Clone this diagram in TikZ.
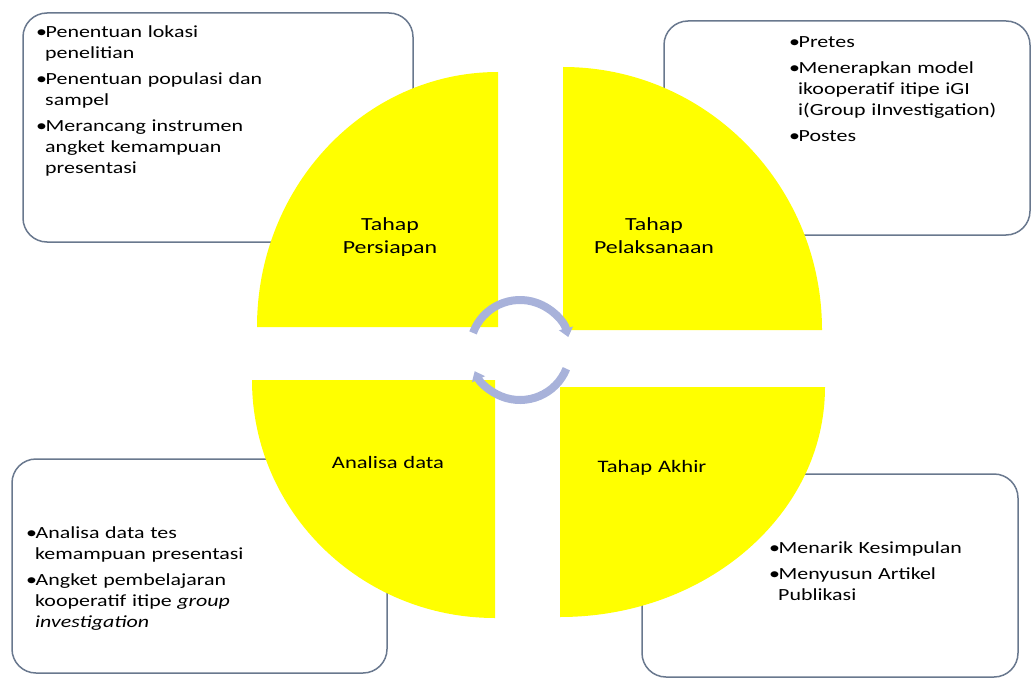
\documentclass[tikz,border=0pt]{standalone}
\usepackage{fontspec}
\setmainfont{Carlito}[FakeStretch=1.29]
\usetikzlibrary{arrows.meta}

\definecolor{stageyellow}{RGB}{255,255,0}
\definecolor{boxline}{RGB}{105,120,142}
\definecolor{cyclearrow}{RGB}{168,178,218}

\newcommand{\bul}{\makebox[9.5pt][l]{•}}
\newcommand{\ind}{\hspace*{9pt}}

\tikzset{
  stagebox/.style={draw=boxline, line width=1.5pt, rounded corners=24pt, fill=white, inner sep=0pt},
  quadrant/.style={fill=stageyellow},
  itemtext/.style={anchor=base west, inner sep=0pt, text width=260pt, align=left, font=\fontsize{17}{21}\selectfont},
  stagetext/.style={anchor=base, inner sep=0pt, text width=160pt, align=center, font=\fontsize{17.5}{23}\selectfont},
  bigstagetext/.style={stagetext, font=\fontsize{18.5}{23}\selectfont},
  cyclearc/.style={draw=cyclearrow, line width=8pt, -{Triangle[width=14pt,length=9pt]}}
}

\begin{document}
\begin{tikzpicture}[x=1pt,y=-1pt]
\useasboundingbox (0,0) rectangle (1033,679);

\node[stagebox, minimum width=390pt, minimum height=229pt] (persiapanbox) at (218,127.5) {};
\node[stagebox, minimum width=366pt, minimum height=214pt] (pelaksanaanbox) at (847,128) {};
\node[stagebox, minimum width=375pt, minimum height=214pt] (analisabox) at (199.5,566) {};
\node[stagebox, minimum width=376pt, minimum height=203pt] (akhirbox) at (830,575.5) {};

\fill[quadrant] (498,327) -- (257,327) arc[start angle=180, end angle=270, x radius=241, y radius=255] -- cycle;
\fill[quadrant] (563,330) -- (563,67) arc[start angle=270, end angle=360, x radius=259, y radius=263] -- cycle;
\fill[quadrant] (495,380) -- (252,380) arc[start angle=180, end angle=90, x radius=243, y radius=238] -- cycle;
\fill[quadrant] (560,387) -- (825,387) arc[start angle=0, end angle=90, x radius=265, y radius=230] -- cycle;

\node[itemtext] (persiapanlist) at (36,38) {\bul Penentuan lokasi\\ \ind penelitian\\[5pt] \bul Penentuan populasi dan\\ \ind sampel\\[5pt] \bul Merancang instrumen\\ \ind angket kemampuan\\ \ind presentasi};
\node[itemtext] (pelaksanaanlist) at (789,48) {\bul Pretes\\[5pt] \bul Menerapkan model\\ \ind ikooperatif itipe iGI\\ \ind i(Group iInvestigation)\\[5pt] \bul Postes};
\node[itemtext] (analisalist) at (26,538) {\bul Analisa data tes\\ \ind kemampuan presentasi\\[5pt] \bul Angket pembelajaran\\ \ind kooperatif itipe \textit{group}\\ \ind \textit{investigation}};
\node[itemtext] (akhirlist) at (769,553) {\bul Menarik Kesimpulan\\[5pt] \bul Menyusun Artikel\\ \ind Publikasi};

\node[bigstagetext] (persiapan) at (390,230) {Tahap\\Persiapan};
\node[bigstagetext] (pelaksanaan) at (654,230) {Tahap\\Pelaksanaan};
\node[stagetext] (analisa) at (388,468) {Analisa data};
\node[stagetext] (akhir) at (652,472) {Tahap Akhir};

\coordinate (cyclecenter) at (520,350);
\draw[cyclearc] (cyclecenter) ++(200:50) arc[start angle=200, end angle=345, radius=50];
\draw[cyclearc] (cyclecenter) ++(22:50) arc[start angle=22, end angle=155, radius=50];
\end{tikzpicture}
\end{document}
